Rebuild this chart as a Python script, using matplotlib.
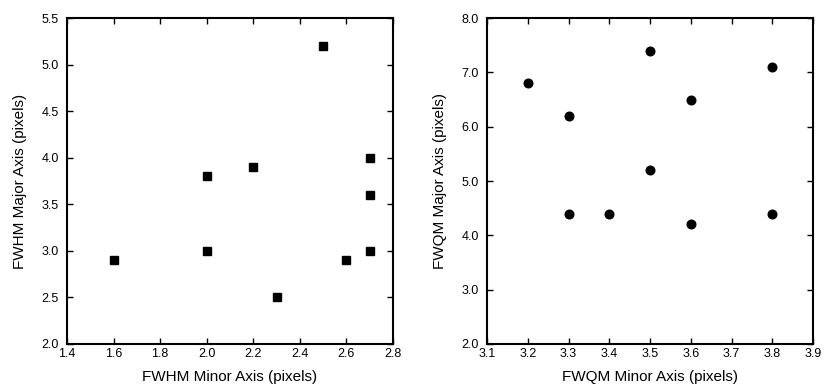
import matplotlib
matplotlib.use('Agg')
import matplotlib.pyplot as plt
import numpy as np

plt.rcParams['font.family'] = ['Liberation Sans', 'DejaVu Sans']

# FWHM data (left panel)
fwhm_minor = [1.6, 2.0, 2.0, 2.2, 2.3, 2.5, 2.6, 2.7, 2.7, 2.7]
fwhm_major = [2.9, 3.8, 3.0, 3.9, 2.5, 5.2, 2.9, 4.0, 3.6, 3.0]

# FWQM data (right panel)
fwqm_minor = [3.2, 3.3, 3.3, 3.4, 3.5, 3.5, 3.6, 3.6, 3.8, 3.8]
fwqm_major = [6.8, 6.2, 4.4, 4.4, 7.4, 5.2, 6.5, 4.2, 7.1, 4.4]

left_xticks = [1.4, 1.6, 1.8, 2.0, 2.2, 2.4, 2.6, 2.8]
left_yticks = [2.0, 2.5, 3.0, 3.5, 4.0, 4.5, 5.0, 5.5]
right_xticks = [3.1, 3.2, 3.3, 3.4, 3.5, 3.6, 3.7, 3.8, 3.9]
right_yticks = [2.0, 3.0, 4.0, 5.0, 6.0, 7.0, 8.0]

fig = plt.figure(figsize=(8.3, 3.91), dpi=100)
W, H = 830, 391
ax1 = fig.add_axes([67 / W, 1 - 344 / H, (393 - 67) / W, (344 - 18) / H])
ax2 = fig.add_axes([487 / W, 1 - 344 / H, (813 - 487) / W, (344 - 18) / H])


def style(ax, xt, yt, xlabel, ylabel):
    ax.set_xlim(xt[0], xt[-1])
    ax.set_ylim(yt[0], yt[-1])
    ax.set_xticks(xt)
    ax.set_yticks(yt)
    ax.set_xticklabels([f"{v:.1f}" for v in xt])
    ax.set_yticklabels([f"{v:.1f}" for v in yt])
    ax.tick_params(direction='in', length=4, width=1.0, top=True, right=True,
                   labelsize=9)
    ax.tick_params(axis='x', pad=3)
    ax.tick_params(axis='y', pad=6)
    for lbl in ax.get_yticklabels():
        lbl.set_verticalalignment('center_baseline')
    for s in ax.spines.values():
        s.set_linewidth(1.5)
    ax.set_xlabel(xlabel, fontsize=11, labelpad=7)
    ax.set_ylabel(ylabel, fontsize=11, labelpad=10)


ax1.plot(fwhm_minor, fwhm_major, linestyle='none', marker='s', markersize=5.8,
         color='black', clip_on=False)
style(ax1, left_xticks, left_yticks, "FWHM Minor Axis (pixels)", "FWHM Major Axis (pixels)")

ax2.plot(fwqm_minor, fwqm_major, linestyle='none', marker='o', markersize=6.2,
         color='black', clip_on=False)
style(ax2, right_xticks, right_yticks, "FWQM Minor Axis (pixels)", "FWQM Major Axis (pixels)")

fig.savefig('out.png', dpi=100)
